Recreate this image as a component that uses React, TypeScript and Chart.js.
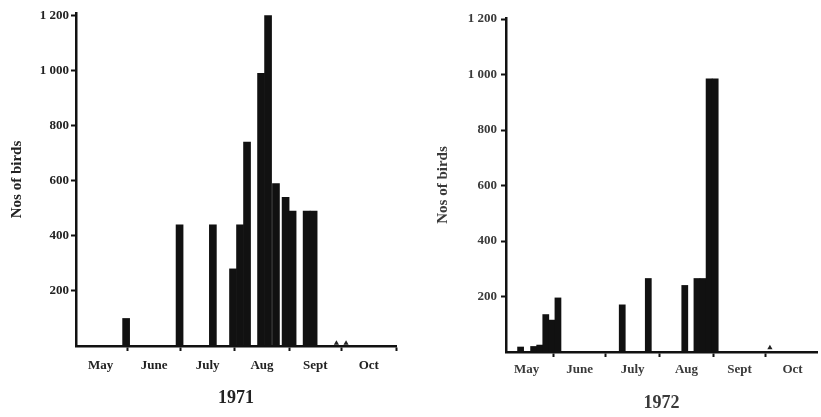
import React, { useEffect, useRef } from 'react';
import { Chart, registerables } from 'chart.js';

Chart.register(...registerables);

// Months along the x axis, as days counted from 1 May
const monthNames = ['May', 'June', 'July', 'Aug', 'Sept', 'Oct'];
const monthStartDays = [0, 31, 61, 92, 123, 153, 184];

// Y axis ticks
const yTickValues = [200, 400, 600, 800, 1000, 1200];
const yTitle = 'Nos of birds';

// 1971 counts
const days1971 = [30, 60.5, 79.5, 91, 95, 99, 107, 111, 115.5, 121, 125, 133, 137];
const birds1971 = [100, 440, 440, 280, 440, 740, 990, 1200, 590, 540, 490, 490, 490];
const traceDays1971 = [150, 155.5];
const traceBirds1971 = [10, 10];

// 1972 counts
const days1972 = [12, 19.5, 23, 26.5, 30, 33.5, 70.5, 85.5, 106.5, 113.5, 117, 120.5, 124];
const birds1972 = [18, 20, 25, 135, 115, 195, 170, 265, 240, 265, 265, 985, 985];
const traceDays1972 = [155.5];
const traceBirds1972 = [15];

const FONT = "'Liberation Serif', 'DejaVu Serif', serif";

type PanelProps = {
  year: string;
  days: number[];
  birds: number[];
  traceDays: number[];
  traceBirds: number[];
  left: number;
  width: number;
  xMin: number;
  xMax: number;
  yMax: number;
  padTop: number;
  padRight: number;
  yAxisWidth: number;
  xAxisHeight: number;
  titlePadBottom: number;
  yTitlePadTop: number;
  xTickPad: number;
  yTickPad: number;
  textColor: string;
};

function fmt(v: number): string {
  return String(v).replace(/\B(?=(\d{3})+(?!\d))/g, ' ');
}

function Panel(p: PanelProps) {
  const ref = useRef<HTMLCanvasElement | null>(null);

  useEffect(() => {
    if (!ref.current) return;
    const midDays = monthNames.map((_, i) => (monthStartDays[i] + monthStartDays[i + 1]) / 2);
    const tickList = [...monthStartDays, ...midDays]
      .filter((v) => v >= p.xMin && v <= p.xMax)
      .sort((a, b) => a - b);
    const labelFor = (v: number) => {
      const i = midDays.indexOf(v);
      return i >= 0 ? monthNames[i] : '';
    };
    const isBoundary = (v: number) => monthStartDays.indexOf(v) >= 0;

    const chart = new Chart(ref.current, {
      type: 'bar',
      data: {
        datasets: [
          {
            type: 'bar',
            label: p.year,
            data: p.days.map((d, i) => ({ x: d, y: p.birds[i] })),
            backgroundColor: '#111',
            borderWidth: 0,
            barPercentage: 1,
            categoryPercentage: 1,
          },
          {
            type: 'scatter',
            label: 'trace',
            data: p.traceDays.map((d, i) => ({ x: d, y: p.traceBirds[i] })),
            pointStyle: 'triangle',
            pointRadius: 3,
            backgroundColor: '#222',
            borderColor: '#222',
            borderWidth: 0,
          } as any,
        ],
      },
      options: {
        responsive: false,
        animation: false,
        events: [],
        layout: { padding: { top: p.padTop, right: p.padRight, left: 0, bottom: 0 } },
        plugins: {
          legend: { display: false },
          tooltip: { enabled: false },
          title: {
            display: true,
            text: p.year,
            position: 'bottom',
            fullSize: false,
            color: p.textColor,
            font: { family: FONT, size: 18, weight: 'bold' },
            padding: { top: 0, bottom: p.titlePadBottom },
          },
        },
        scales: {
          x: {
            type: 'linear',
            min: p.xMin,
            max: p.xMax,
            offset: false,
            afterFit: (s: any) => {
              s.height = p.xAxisHeight;
            },
            afterBuildTicks: (s: any) => {
              s.ticks = tickList.map((v) => ({ value: v }));
            },
            ticks: {
              autoSkip: false,
              maxRotation: 0,
              minRotation: 0,
              padding: p.xTickPad,
              color: p.textColor,
              font: { family: FONT, size: 13, weight: 'bold' },
              callback: (v: any) => labelFor(Number(v)),
            },
            grid: {
              display: true,
              offset: false,
              drawOnChartArea: false,
              drawTicks: true,
              tickLength: 5,
              tickWidth: 2,
              tickColor: (ctx: any) =>
                ctx.tick && isBoundary(ctx.tick.value) ? '#111' : 'rgba(0,0,0,0)',
              color: 'rgba(0,0,0,0)',
            },
            border: { display: true, color: '#111', width: 2.5 },
          },
          y: {
            type: 'linear',
            min: 0,
            max: p.yMax,
            afterFit: (s: any) => {
              s.width = p.yAxisWidth;
            },
            afterBuildTicks: (s: any) => {
              s.ticks = yTickValues.map((v) => ({ value: v }));
            },
            ticks: {
              padding: p.yTickPad,
              color: p.textColor,
              font: { family: FONT, size: 13, weight: 'bold' },
              callback: (v: any) => fmt(Number(v)),
            },
            grid: {
              display: true,
              drawOnChartArea: false,
              drawTicks: true,
              tickLength: 5,
              tickWidth: 2,
              tickColor: '#111',
              color: 'rgba(0,0,0,0)',
            },
            border: { display: true, color: '#111', width: 2.5 },
            title: {
              display: true,
              text: yTitle,
              color: p.textColor,
              font: { family: FONT, size: 15, weight: 'bold' },
              padding: { top: p.yTitlePadTop, bottom: 0 },
            },
          },
        },
      } as any,
    });
    return () => chart.destroy();
  }, []);

  return (
    <canvas
      ref={ref}
      width={p.width}
      height={417}
      style={{ position: 'absolute', left: p.left, top: 0, width: p.width, height: 417 }}
    />
  );
}

export default function App() {
  return (
    <div
      style={{
        position: 'fixed',
        left: 0,
        top: 0,
        width: 821,
        height: 417,
        overflow: 'hidden',
        background: '#fff',
      }}
    >
      <Panel
        year="1971"
        days={days1971}
        birds={birds1971}
        traceDays={traceDays1971}
        traceBirds={traceBirds1971}
        left={0}
        width={410}
        xMin={1.4}
        xMax={184}
        yMax={1209}
        padTop={13}
        padRight={14}
        yAxisWidth={76}
        xAxisHeight={41.4}
        titlePadBottom={8}
        yTitlePadTop={8}
        xTickPad={7}
        yTickPad={2}
        textColor="#222"
      />
      <Panel
        year="1972"
        days={days1972}
        birds={birds1972}
        traceDays={traceDays1972}
        traceBirds={traceBirds1972}
        left={410}
        width={411}
        xMin={3.6}
        xMax={182.6}
        yMax={1204}
        padTop={18}
        padRight={0}
        yAxisWidth={96}
        xAxisHeight={40.2}
        titlePadBottom={3.2}
        yTitlePadTop={24}
        xTickPad={5}
        yTickPad={4}
        textColor="#3a3a3a"
      />
    </div>
  );
}
